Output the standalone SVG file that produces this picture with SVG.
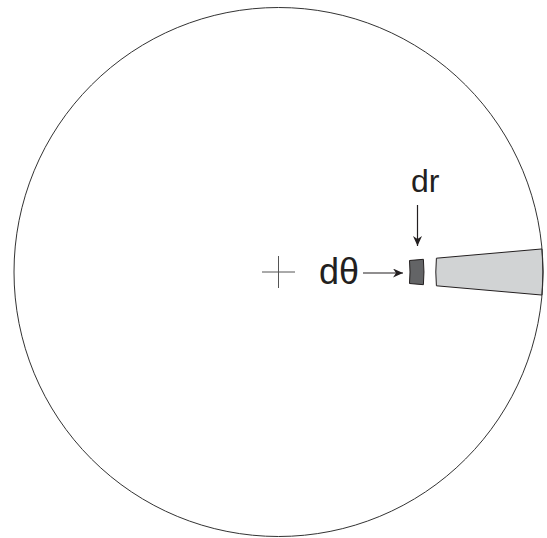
<svg xmlns="http://www.w3.org/2000/svg" width="547" height="538" viewBox="0 0 547 538">
<style>
.lbl{font-family:"Liberation Sans",Arial,sans-serif;fill:#231f20}
.ln{stroke:#231f20;stroke-width:1.2;fill:none}
</style>
<defs>
<marker id="ah" markerWidth="11" markerHeight="9" refX="10" refY="4.5" orient="auto" markerUnits="userSpaceOnUse">
<path d="M0,0 L10,4.5 L0,9 L3,4.5 Z" fill="#231f20"/>
</marker>
</defs>
<rect width="547" height="538" fill="#fff"/>
<g id="wedge">
<path d="M436.4,258.2 A158.5,158.5 0 0 0 436.4,285.8 L542,295.05 A264.5,264.5 0 0 0 542,248.95 Z" fill="#d1d3d4" stroke="#231f20" stroke-width="1"/>
</g>
<g id="element">
<path d="M409.5,260.5 A131.5,131.5 0 0 1 409.5,283.5 L423.4,284.7 A145.5,145.5 0 0 0 423.4,259.3 Z" fill="#636466" stroke="#231f20" stroke-width="1"/>
</g>
<g id="circle">
<circle cx="278.5" cy="272" r="264.5" fill="none" stroke="#333" stroke-width="1"/>
</g>
<g id="center">
<path d="M262,272 H295 M278.5,256 V288" stroke="#555" stroke-width="1" fill="none"/>
</g>
<g id="labels">
<text class="lbl" x="319" y="284" font-size="36">dθ</text>
<text class="lbl" x="411" y="192" font-size="32">dr</text>
</g>
<g id="connectors">
<line class="ln" x1="363" y1="273" x2="403" y2="273" marker-end="url(#ah)"/>
<line class="ln" x1="417.5" y1="205" x2="417.5" y2="246" marker-end="url(#ah)"/>
</g>
</svg>
